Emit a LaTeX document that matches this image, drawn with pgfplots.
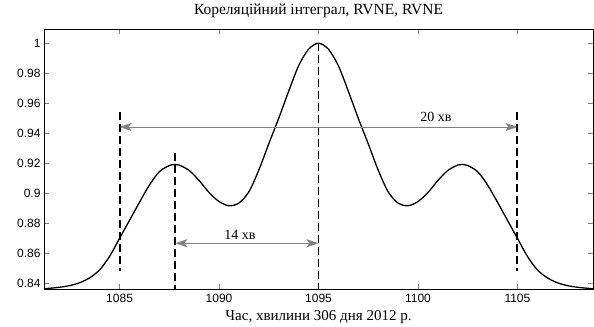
\documentclass[border=0pt]{standalone}
\usepackage{pgfplots}
\pgfplotsset{compat=1.18}
\usepackage{fontspec}
\setmainfont{Liberation Serif}
\setsansfont{Liberation Sans}
\usetikzlibrary{arrows.meta}
\begin{document}
\begin{tikzpicture}
\begin{axis}[
  scale only axis, width=549pt, height=260pt,
  xmin=1081.2, xmax=1108.8, ymin=0.8362, ymax=1.0095,
  xtick={1085,1090,1095,1100,1105},
  ytick={0.84,0.86,0.88,0.9,0.92,0.94,0.96,0.98,1},
  scaled ticks=false,
  /pgf/number format/assume math mode=true,
  xticklabel style={/pgf/number format/1000 sep={}, yshift=-2pt},
  yticklabel style={/pgf/number format/.cd, fixed, precision=2},
  tick label style={font=\sffamily\fontsize{12}{14}\selectfont},
  tick align=inside, major tick length=5pt,
  axis line style={line width=0.6pt},
  title={Кореляційний інтеграл, RVNE, RVNE},
  title style={font=\fontsize{15.5}{17}\selectfont, at={(0.5,1)}, anchor=base, yshift=9pt},
  xlabel={Час, хвилини 306 дня 2012 р.},
  xlabel style={font=\fontsize{15}{17}\selectfont, at={(0.5,0)}, anchor=base, yshift=-31pt},
  clip=false,
]
\addplot[black, line width=1.3pt, smooth] coordinates {
(1081.2,0.8363) (1081.5,0.8367) (1082.0,0.8374) (1082.5,0.8385) (1083.0,0.8404)
(1083.5,0.8437) (1084.0,0.8490) (1084.5,0.8580) (1085.0,0.8700) (1085.5,0.8820)
(1086.0,0.8940) (1086.5,0.9055) (1087.0,0.9144) (1087.5,0.9185) (1087.8,0.9192)
(1088.0,0.9188) (1088.5,0.9152) (1089.0,0.9085) (1089.5,0.9005) (1090.0,0.8945)
(1090.5,0.8917) (1091.0,0.8935) (1091.5,0.9010) (1092.0,0.9155) (1092.5,0.9330)
(1093.0,0.9500) (1093.5,0.9680) (1094.0,0.9850) (1094.5,0.9960) (1095.0,1.0000)
(1095.5,0.9960) (1096.0,0.9850) (1096.5,0.9680) (1097.0,0.9500) (1097.5,0.9330)
(1098.0,0.9155) (1098.5,0.9010) (1099.0,0.8935) (1099.5,0.8917) (1100.0,0.8945)
(1100.5,0.9005) (1101.0,0.9085) (1101.5,0.9152) (1102.0,0.9188) (1102.2,0.9192)
(1102.5,0.9185) (1103.0,0.9144) (1103.5,0.9055) (1104.0,0.8940) (1104.5,0.8820)
(1105.0,0.8700) (1105.5,0.8580) (1106.0,0.8490) (1106.5,0.8437) (1107.0,0.8404)
(1107.5,0.8385) (1108.0,0.8374) (1108.5,0.8367) (1108.8,0.8363)
};
% vertical dashed markers
\addplot[black, line width=2pt, dash pattern=on 8pt off 4pt] coordinates {(1085,0.954) (1085,0.848)};
\addplot[black, line width=2pt, dash pattern=on 8pt off 4pt] coordinates {(1087.8,0.927) (1087.8,0.8362)};
\addplot[black, line width=1.8pt, dash pattern=on 8pt off 4pt] coordinates {(1095,1.0) (1095,0.8362)};
\addplot[black, line width=2pt, dash pattern=on 8pt off 4pt] coordinates {(1105,0.954) (1105,0.848)};
% double arrows
\addplot[gray, line width=0.7pt, {Stealth[length=12pt,width=8pt,inset=3pt]}-{Stealth[length=12pt,width=8pt,inset=3pt]}] coordinates {(1085,0.9442) (1105,0.9442)};
\addplot[gray, line width=0.7pt, {Stealth[length=12pt,width=8pt,inset=3pt]}-{Stealth[length=12pt,width=8pt,inset=3pt]}] coordinates {(1087.8,0.8667) (1095,0.8667)};
\node[font=\fontsize{14}{16}\selectfont] at (axis cs:1100.9,0.951) {20 хв};
\node[font=\fontsize{14}{16}\selectfont] at (axis cs:1091.05,0.8722) {14 хв};
\end{axis}
\path ([shift={(-44pt,-37pt)}]current axis.south west) rectangle ([shift={(1pt,29pt)}]current axis.north east);
\end{tikzpicture}
\end{document}
